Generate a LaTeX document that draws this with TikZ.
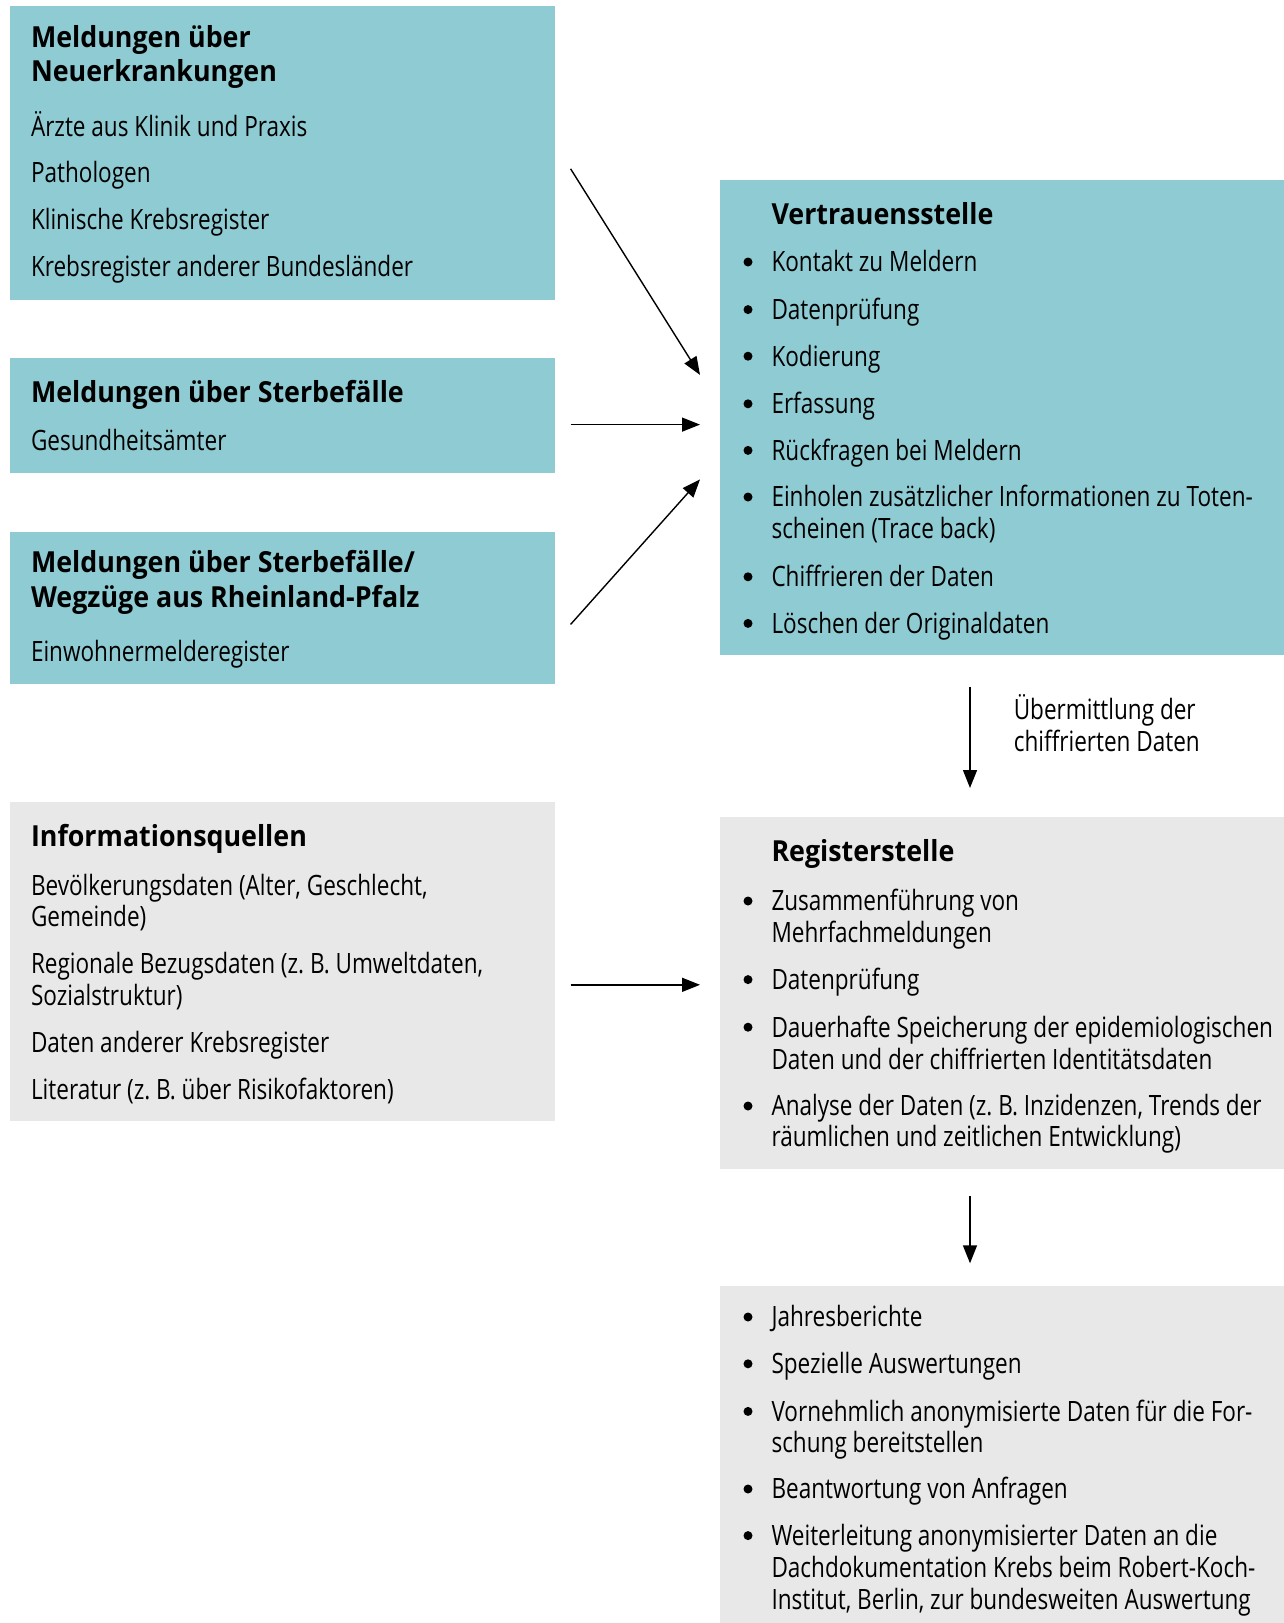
\documentclass[tikz,border=0pt]{standalone}
\usepackage{fontspec}
\setmainfont[FakeStretch=0.805,BoldFeatures={FakeStretch=0.925}]{Open Sans}
\usetikzlibrary{arrows.meta}
\definecolor{boxteal}{RGB}{143,203,211}
\definecolor{boxgray}{RGB}{232,232,232}
\begin{document}
\begin{tikzpicture}[x=1pt,y=-1pt,
  box/.style={draw=none,inner sep=0pt,outer sep=0pt,anchor=north west},
  tealbox/.style={box,fill=boxteal},
  graybox/.style={box,fill=boxgray},
  txt/.style={anchor=mid west,inner sep=0pt,outer sep=0pt,yshift=-7.2pt,font=\fontsize{28}{32}\selectfont},
  ttl/.style={anchor=mid west,inner sep=0pt,outer sep=0pt,yshift=-7.2pt,font=\fontsize{29}{32}\selectfont\bfseries},
  bul/.style={circle,fill=black,inner sep=0pt,minimum size=9pt},
  arr/.style={-{Triangle[length=18pt,width=14pt]},line width=1.4pt}]
\useasboundingbox (0,0) rectangle (1284,1623);
% boxes
\node[tealbox,minimum width=544.6pt,minimum height=293.8pt] (b1) at (10.4,6.2) {};
\node[tealbox,minimum width=544.6pt,minimum height=115pt] (b2) at (10.4,358) {};
\node[tealbox,minimum width=544.6pt,minimum height=152pt] (b3) at (10.4,532) {};
\node[graybox,minimum width=544.6pt,minimum height=319pt] (b4) at (10.4,802) {};
\node[tealbox,minimum width=564pt,minimum height=475pt] (vs) at (720,180) {};
\node[graybox,minimum width=564pt,minimum height=352pt] (rs) at (720,817) {};
\node[graybox,minimum width=564pt,minimum height=337pt] (out) at (720,1286) {};
% box 1
\node[ttl] (t1a) at (31,37.3) {Meldungen über};
\node[ttl] (t1b) at (31,71.5) {Neuerkrankungen};
\node[txt] (t1c) at (31,126.3) {Ärzte aus Klinik und Praxis};
\node[txt] (t1d) at (31,173) {Pathologen};
\node[txt] (t1e) at (31,219.5) {Klinische Krebsregister};
\node[txt] (t1f) at (31,267) {Krebsregister anderer Bundesländer};
% box 2
\node[ttl] (t2a) at (31,392.5) {Meldungen über Sterbefälle};
\node[txt] (t2b) at (31,441) {Gesundheitsämter};
% box 3
\node[ttl] (t3a) at (31,563) {Meldungen über Sterbefälle/};
\node[ttl] (t3b) at (31,597.5) {Wegzüge aus Rheinland-Pfalz};
\node[txt] (t3c) at (31,652) {Einwohnermelderegister};
% box 4
\node[ttl] (t4a) at (31,837) {Informationsquellen};
\node[txt] (t4b) at (31,885.4) {Bevölkerungsdaten (Alter, Geschlecht,};
\node[txt] (t4c) at (31,916.4) {Gemeinde)};
\node[txt] (t4d) at (31,964) {Regionale Bezugsdaten (z.~B. Umweltdaten,};
\node[txt] (t4e) at (31,996) {Sozialstruktur)};
\node[txt] (t4f) at (31,1042.8) {Daten anderer Krebsregister};
\node[txt] (t4g) at (31,1089.3) {Literatur (z.~B. über Risikofaktoren)};
% Vertrauensstelle
\node[ttl] (v0) at (771.5,214.4) {Vertrauensstelle};
\node[bul] (vb1) at (748,262) {};   \node[txt] (v1) at (771.5,262) {Kontakt zu Meldern};
\node[bul] (vb2) at (748,309.6) {}; \node[txt] (v2) at (771.5,309.6) {Datenprüfung};
\node[bul] (vb3) at (748,356.2) {}; \node[txt] (v3) at (771.5,356.2) {Kodierung};
\node[bul] (vb4) at (748,403.8) {}; \node[txt] (v4) at (771.5,403.8) {Erfassung};
\node[bul] (vb5) at (748,450.4) {}; \node[txt] (v5) at (771.5,450.4) {Rückfragen bei Meldern};
\node[bul] (vb6) at (748,497) {};   \node[txt] (v6) at (771.5,497) {Einholen zusätzlicher Informationen zu Toten-};
\node[txt] (v6b) at (771.5,529) {scheinen (Trace back)};
\node[bul] (vb7) at (748,576.8) {}; \node[txt] (v7) at (771.5,576.8) {Chiffrieren der Daten};
\node[bul] (vb8) at (748,623.4) {}; \node[txt] (v8) at (771.5,623.4) {Löschen der Originaldaten};
% Registerstelle
\node[ttl] (r0) at (771.5,851.2) {Registerstelle};
\node[bul] (rb1) at (748,901) {};    \node[txt] (r1) at (771.5,901) {Zusammenführung von};
\node[txt] (r1b) at (771.5,933) {Mehrfachmeldungen};
\node[bul] (rb2) at (748,979.6) {};  \node[txt] (r2) at (771.5,979.6) {Datenprüfung};
\node[bul] (rb3) at (748,1027.2) {}; \node[txt] (r3) at (771.5,1027.2) {Dauerhafte Speicherung der epidemiologischen};
\node[txt] (r3b) at (771.5,1059.3) {Daten und der chiffrierten Identitätsdaten};
\node[bul] (rb4) at (748,1106) {};   \node[txt] (r4) at (771.5,1106) {Analyse der Daten (z.~B. Inzidenzen, Trends der};
\node[txt] (r4b) at (771.5,1137) {räumlichen und zeitlichen Entwicklung)};
% output
\node[bul] (ob1) at (748,1317) {};   \node[txt] (o1) at (771.5,1317) {Jahresberichte};
\node[bul] (ob2) at (748,1363.8) {}; \node[txt] (o2) at (771.5,1363.8) {Spezielle Auswertungen};
\node[bul] (ob3) at (748,1411.4) {}; \node[txt] (o3) at (771.5,1411.4) {Vornehmlich anonymisierte Daten für die For-};
\node[txt] (o3b) at (771.5,1442.4) {schung bereitstellen};
\node[bul] (ob4) at (748,1489) {};   \node[txt] (o4) at (771.5,1489) {Beantwortung von Anfragen};
\node[bul] (ob5) at (748,1535.6) {}; \node[txt] (o5) at (771.5,1535.6) {Weiterleitung anonymisierter Daten an die};
\node[txt] (o5b) at (771.5,1567.7) {Dachdokumentation Krebs beim Robert-Koch-};
\node[txt] (o5c) at (771.5,1600) {Institut, Berlin, zur bundesweiten Auswertung};
% label
\node[txt] (l1) at (1013.8,709.3) {Übermittlung der};
\node[txt] (l2) at (1013.8,741.4) {chiffrierten Daten};
% arrows
\coordinate (a1s) at (570.6,168.8); \coordinate (a1e) at (700,374.9);
\coordinate (a2s) at (570.6,424.6); \coordinate (a2e) at (700,424.6);
\coordinate (a3s) at (570.6,624.4); \coordinate (a3e) at (700,479.4);
\coordinate (a4s) at (570.6,984.8); \coordinate (a4e) at (700,984.8);
\coordinate (a5s) at (970,686.5);   \coordinate (a5e) at (970,788);
\coordinate (a6s) at (970,1196);    \coordinate (a6e) at (970,1263.3);
\draw[arr] (a1s) -- (a1e);
\draw[arr] (a2s) -- (a2e);
\draw[arr] (a3s) -- (a3e);
\draw[arr] (a4s) -- (a4e);
\draw[arr] (a5s) -- (a5e);
\draw[arr] (a6s) -- (a6e);
\end{tikzpicture}
\end{document}
